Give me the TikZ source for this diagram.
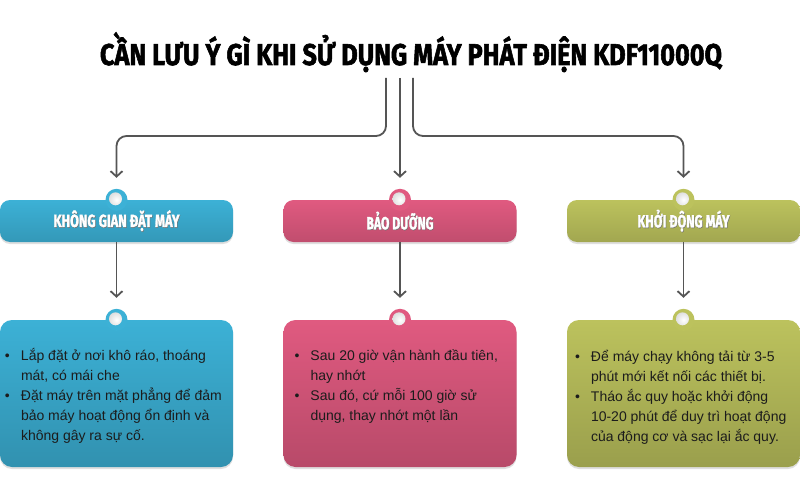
\documentclass[tikz,border=0pt]{standalone}
\usepackage{fontspec}
\setmainfont{Liberation Sans}
\newfontfamily\headfont{Fira Sans}[BoldFeatures={FakeBold=2}]
\usepackage{graphicx}
\usepackage{xcolor}
\usetikzlibrary{positioning,arrows.meta,shadows}
\definecolor{spaceblue}{HTML}{3CB1D6}
\definecolor{carepink}{HTML}{E05A80}
\definecolor{startolive}{HTML}{BCC25D}
\definecolor{linkgray}{HTML}{555555}
\definecolor{textdark}{HTML}{1C1C1C}
\newcommand\hdtext[2]{\resizebox{#1}{\height}{\rlap{\kern0.7pt\raisebox{-0.7pt}{\color{black!55}#2}}#2}}
\newcommand\tip{\par\hangindent=16pt\hangafter=1\noindent\makebox[16pt][l]{\textbullet}}
\newcommand\notebox[2]{\parbox[c][147pt][t]{233pt}{\leftskip=#1\rightskip=-30pt plus 1fil\parindent=0pt #2}}
\tikzset{
    heading/.style={font=\headfont\bfseries\fontsize{30}{30}\selectfont, inner sep=0pt, text=black},
    header/.style={rounded corners=10pt, minimum width=233pt, minimum height=42pt, inner sep=0pt,
        top color=#1, bottom color=#1!86!black, text=white,
        drop shadow={shadow xshift=0pt, shadow yshift=-2pt, opacity=0.25},
        font=\headfont\bfseries\fontsize{17.5}{17.5}\selectfont},
    notes/.style={rounded corners=12pt, minimum width=233pt, minimum height=147pt, inner sep=0pt,
        top color=#1, bottom color=#1!82!black, text=textdark,
        drop shadow={shadow xshift=0pt, shadow yshift=-2pt, opacity=0.25},
        font=\fontsize{14}{20}\selectfont},
    ring/.style={circle, fill=#1, minimum size=22pt, inner sep=0pt,
        path picture={\shade[inner color=white, outer color=white!82!black] ([xshift=-1pt,yshift=1pt]path picture bounding box.center) circle (6.5pt);}},
    link/.style={draw=linkgray, line width=1.8pt, -{Straight Barb[length=5.5pt,width=12pt]}}
}
\begin{document}
\begin{tikzpicture}[x=1pt, y=-1pt]
    \useasboundingbox[fill=white] (0,0) rectangle (800,500);

    % Title
    \node[heading, anchor=base] (title) at (411,65) {\resizebox{622pt}{\height}{CẦN LƯU Ý GÌ KHI SỬ DỤNG MÁY PHÁT ĐIỆN KDF11000Q}};
    \coordinate (fork) at (400,78);

    % Headers
    \node[header=spaceblue] (hdSpace) at (116.5,221) {\hdtext{126pt}{KHÔNG GIAN ĐẶT MÁY}};
    \node[header=carepink] (hdCare) at (400,221) {\hdtext{67pt}{BẢO DƯỠNG}};
    \node[header=startolive] (hdStart) at (683.5,221) {\hdtext{92pt}{KHỞI ĐỘNG MÁY}};

    % Notes
    \node[notes=spaceblue] (bdSpace) at (116.5,393.5) {\notebox{5pt}{%
        \tip\rule{0pt}{40pt}Lắp đặt ở nơi khô ráo, thoáng\\mát, có mái che
        \tip Đặt máy trên mặt phẳng để đảm\\bảo máy hoạt động ổn định và\\không gây ra sự cố.}};
    \node[notes=carepink] (bdCare) at (400,393.5) {\notebox{11pt}{%
        \tip\rule{0pt}{40pt}Sau 20 giờ vận hành đầu tiên,\\hay nhớt
        \tip Sau đó, cứ mỗi 100 giờ sử\\dụng, thay nhớt một lần}};
    \node[notes=startolive] (bdStart) at (683.5,393.5) {\notebox{8pt}{%
        \tip\rule{0pt}{41pt}Để máy chạy không tải từ 3-5\\phút mới kết nối các thiết bị.
        \tip Tháo ắc quy hoặc khởi động\\10-20 phút để duy trì hoạt động\\của động cơ và sạc lại ắc quy.}};

    % Rings on top edges
    \node[ring=spaceblue] (rgSpaceHd) at (hdSpace.north) {};
    \node[ring=carepink] (rgCareHd) at (hdCare.north) {};
    \node[ring=startolive] (rgStartHd) at (hdStart.north) {};
    \node[ring=spaceblue] (rgSpaceBd) at (bdSpace.north) {};
    \node[ring=carepink] (rgCareBd) at (bdCare.north) {};
    \node[ring=startolive] (rgStartBd) at (bdStart.north) {};

    % Links from title
    \draw[link, rounded corners=10pt] ([xshift=-14pt]fork) -- ++(0,58) -| ([yshift=22pt]hdSpace.north);
    \draw[link] (fork) -- ([yshift=22pt]hdCare.north);
    \draw[link, rounded corners=10pt] ([xshift=13pt]fork) -- ++(0,58) -| ([yshift=22pt]hdStart.north);

    % Links to notes
    \draw[link] (hdSpace.south) -- ([yshift=22pt]bdSpace.north);
    \draw[link] (hdCare.south) -- ([yshift=22pt]bdCare.north);
    \draw[link] (hdStart.south) -- ([yshift=22pt]bdStart.north);
\end{tikzpicture}
\end{document}
